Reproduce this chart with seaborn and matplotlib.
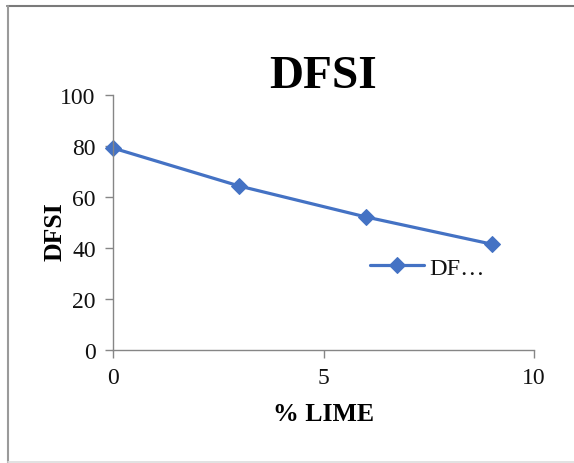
import numpy as np
import pandas as pd
import matplotlib
matplotlib.use("Agg")
import matplotlib.pyplot as plt
from matplotlib.lines import Line2D
import seaborn as sns

# values
lime_pct = [0, 3, 6, 9]
dfsi = [79.2, 64.3, 52.2, 41.5]
series_name = "DF\u2026"
x_ticks = [0, 5, 10]
y_ticks = [0, 20, 40, 60, 80, 100]

sns.set_style("white")
plt.rcParams["font.family"] = ["Liberation Serif", "DejaVu Serif"]
plt.rcParams["text.color"] = "black"

df = pd.DataFrame({"lime": lime_pct, "dfsi": dfsi, "series": series_name})

blue = "#4472C4"
axis_grey = "#868686"

fig = plt.figure(figsize=(5.74, 4.64), dpi=100)
ax = fig.add_axes([113 / 574, 1 - 351 / 464, 421 / 574, 255 / 464])

sns.lineplot(data=df, x="lime", y="dfsi", hue="series", palette=[blue],
             marker="D", markersize=8, markeredgecolor=blue, linewidth=2.3,
             clip_on=False, ax=ax)

ax.set_xlim(0, 10)
ax.set_ylim(0, 100)
ax.set_xticks(x_ticks)
ax.set_yticks(y_ticks)

for side in ["top", "right"]:
    ax.spines[side].set_visible(False)
for side in ["left", "bottom"]:
    ax.spines[side].set_color(axis_grey)
    ax.spines[side].set_linewidth(1.0)

ax.tick_params(axis="both", direction="out", length=5.5, width=1.0,
               color=axis_grey, labelsize=17, labelcolor="#111111", pad=7)
ax.tick_params(axis="x", bottom=True)
ax.tick_params(axis="y", left=True)

ax.set_xlabel("% LIME", fontsize=18.5, fontweight="bold", color="black")
ax.set_ylabel("DFSI", fontsize=18.5, fontweight="bold", color="black")
ax.xaxis.set_label_coords(0.5, -0.205)
ax.yaxis.set_label_coords(-0.11, 0.467)

ax.set_title("DFSI", fontsize=34, fontweight="bold", pad=6, color="black")

leg = ax.legend(loc="center left", bbox_to_anchor=(0.61, 0.322),
                frameon=False, fontsize=17.5, handlelength=2.25,
                handletextpad=0.2, borderpad=0, borderaxespad=0)
for t in leg.get_texts():
    t.set_color("#111111")

# chart-area border like the original spreadsheet export
fig.add_artist(Line2D([7 / 574, 1], [1 - 7 / 464, 1 - 7 / 464],
                      transform=fig.transFigure, color="#7a7a7a", lw=1.5))
fig.add_artist(Line2D([8 / 574, 8 / 574], [1 - 7 / 464, 0],
                      transform=fig.transFigure, color="#9a9a9a", lw=1.5))
fig.add_artist(Line2D([8 / 574, 1], [1 - 463 / 464, 1 - 463 / 464],
                      transform=fig.transFigure, color="#dddddd", lw=1.2))

fig.savefig("out.png", dpi=100)
